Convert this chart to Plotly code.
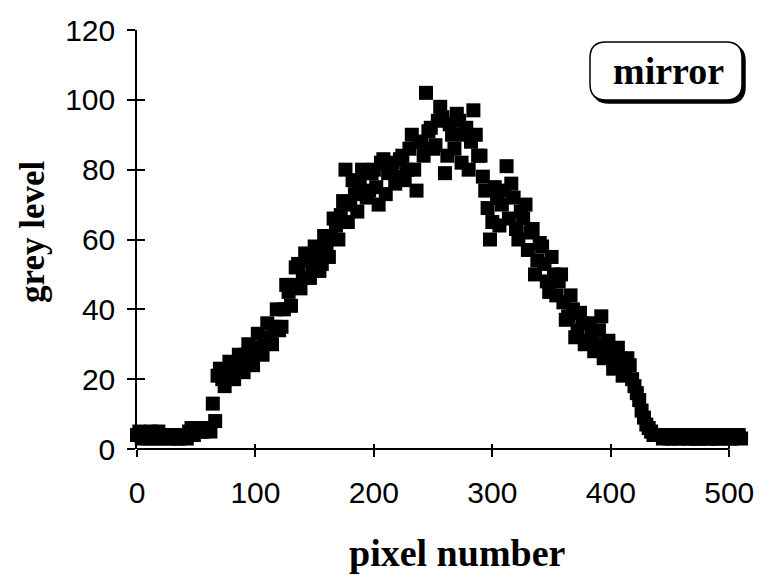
import plotly.graph_objects as go

# grey levels: samples at pixel 0,4,8,... and 2,6,10,...
pixel_a = list(range(0, 512, 4))
grey_a = [4, 3, 4, 5, 3, 4, 4, 3, 4, 3, 4, 5, 4, 6, 5, 6,
          13, 21, 20, 22, 21, 24, 23, 27, 25, 29, 28, 32, 31, 35, 34, 40,
          45, 47, 53, 49, 54, 51, 55, 53, 58, 61, 64, 67, 80, 70, 73, 76,
          79, 74, 80, 70, 83, 79, 82, 78, 84, 80, 90, 74, 88, 102, 92, 87,
          98, 79, 93, 86, 94, 90, 80, 97, 84, 78, 69, 65, 72, 70, 81, 76,
          63, 68, 70, 62, 50, 59, 53, 45, 50, 48, 42, 38, 40, 34, 36, 31,
          33, 30, 38, 28, 27, 25, 26, 23, 24, 18, 14, 9, 6, 4, 4, 3,
          4, 3, 4, 4, 3, 4, 3, 3, 4, 3, 4, 3, 4, 3, 4, 4]
pixel_b = list(range(2, 512, 4))
grey_b = [5, 4, 3, 4, 5, 3, 4, 4, 3, 4, 3, 6, 5, 5, 6, 5,
          8, 23, 18, 25, 20, 27, 22, 30, 24, 33, 27, 36, 30, 40, 35, 47,
          41, 52, 46, 56, 49, 58, 51, 61, 55, 66, 60, 71, 65, 77, 68, 80,
          72, 79, 75, 82, 73, 81, 76, 83, 77, 86, 80, 88, 84, 91, 86, 94,
          95, 84, 90, 96, 82, 92, 88, 90, 84, 74, 60, 75, 64, 74, 66, 72,
          60, 66, 57, 63, 54, 58, 48, 55, 44, 50, 37, 44, 32, 39, 30, 36,
          28, 34, 26, 31, 23, 29, 21, 26, 20, 16, 11, 7, 5, 4, 4, 4,
          3, 4, 3, 4, 3, 4, 3, 4, 3, 4, 3, 4, 4, 3, 4, 3]

x_ticks = [0, 100, 200, 300, 400, 500]
y_ticks = [0, 20, 40, 60, 80, 100, 120]
x_title = "pixel number"
y_title = "grey level"
label = "mirror"

# plot area in pixels
L, R, T, B = 137, 747, 30, 449
XMAX = 515  # a little beyond 500 so the last markers show


def px(xp):
    return (xp - L) / (R - L)


def py(yp):
    return (B - yp) / (B - T)


fig = go.Figure()
fig.add_trace(go.Scatter(
    x=pixel_a + pixel_b, y=grey_a + grey_b, mode="markers", cliponaxis=False,
    marker=dict(symbol="square", size=14, color="black", line=dict(width=0)),
    showlegend=False))
fig.add_trace(go.Scatter(x=[0], y=[0], xaxis="x2", yaxis="y2", mode="markers",
                         marker=dict(opacity=0), showlegend=False, hoverinfo="skip"))

tickfont = dict(family="Liberation Sans, Arial", size=30, color="black")
fig.update_layout(
    width=766, height=581,
    margin=dict(l=L, r=766 - R, t=T, b=581 - B),
    paper_bgcolor="white", plot_bgcolor="white",
    xaxis=dict(range=[0, XMAX], tickvals=x_ticks, ticks="outside", ticklen=7,
               tickwidth=1.5, tickcolor="black", showline=False,
               showgrid=False, zeroline=False, tickfont=tickfont,
               ticklabelstandoff=10),
    yaxis=dict(range=[0, 120], tickvals=y_ticks, ticks="outside", ticklen=8,
               tickwidth=1.5, tickcolor="black", showline=True, linecolor="black",
               linewidth=1.5, showgrid=False, zeroline=False, tickfont=tickfont,
               ticklabelstandoff=6),
    xaxis2=dict(range=[0, XMAX], tickvals=x_ticks, ticks="inside", ticklen=5,
                tickwidth=1.5, tickcolor="black", showticklabels=False,
                showgrid=False, zeroline=False, overlaying="x"),
    yaxis2=dict(range=[0, 120], tickvals=y_ticks, ticks="inside", ticklen=8,
                tickwidth=1.5, tickcolor="black", showticklabels=False,
                showgrid=False, zeroline=False, overlaying="y"),
)

# x axis line from 0 to 500 only
fig.add_shape(type="line", xref="paper", yref="paper", x0=0, x1=500 / XMAX, y0=0, y1=0,
              line=dict(color="black", width=2.2))


def rrect(x0, x1, y0, y1, r):
    def P(a, b):
        return f"{px(a):.5f},{py(b):.5f}"
    return (f"M {P(x0 + r, y0)} L {P(x1 - r, y0)} Q {P(x1, y0)} {P(x1, y0 + r)} "
            f"L {P(x1, y1 - r)} Q {P(x1, y1)} {P(x1 - r, y1)} L {P(x0 + r, y1)} "
            f"Q {P(x0, y1)} {P(x0, y1 - r)} L {P(x0, y0 + r)} Q {P(x0, y0)} {P(x0 + r, y0)} Z")


bx0, bx1, by0, by1 = 590, 742, 42, 100
fig.add_shape(type="path", path=rrect(bx0 + 3, bx1 + 3, by0 + 3, by1 + 3, 16),
              xref="paper", yref="paper", fillcolor="black", line=dict(color="black", width=1.5))
fig.add_shape(type="path", path=rrect(bx0, bx1, by0, by1, 16),
              xref="paper", yref="paper", fillcolor="white", line=dict(color="black", width=1.5))
fig.add_annotation(x=px(668), y=py(71), xref="paper", yref="paper", text=f"<b>{label}</b>",
                   showarrow=False, xanchor="center", yanchor="middle",
                   font=dict(family="Liberation Serif, Times New Roman", size=38, color="black"))

fig.add_annotation(x=px(457), y=py(553), xref="paper", yref="paper", text=f"<b>{x_title}</b>",
                   showarrow=False, xanchor="center", yanchor="middle",
                   font=dict(family="Liberation Serif", size=38, color="black"))
fig.add_annotation(x=px(32), y=py(232), xref="paper", yref="paper", text=f"<b>{y_title}</b>",
                   textangle=-90, showarrow=False, xanchor="center", yanchor="middle",
                   font=dict(family="Liberation Serif", size=35, color="black"))

fig.write_html("out.html")
